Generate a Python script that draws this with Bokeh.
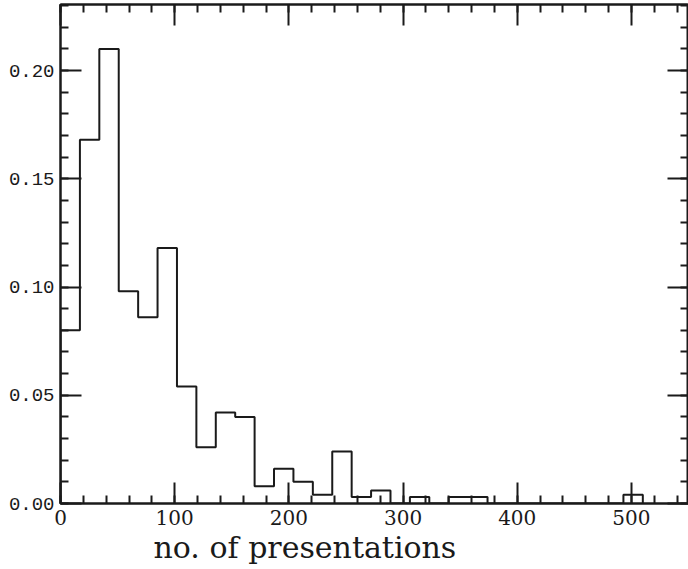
from bokeh.plotting import figure
from bokeh.models import (LinearAxis, SingleIntervalTicker, PrintfTickFormatter,
                          CustomJSTickFormatter, Range1d, Title)
from bokeh.embed import file_html
from bokeh.resources import INLINE

# ---- data (histogram, bin width 17) ----
bin_width = 17
bin_heights = [0.080, 0.168, 0.210, 0.098, 0.086, 0.118, 0.054, 0.026, 0.042, 0.040,
               0.008, 0.016, 0.010, 0.004, 0.024, 0.003, 0.006, 0.000, 0.003, 0.000,
               0.003, 0.003, 0.000, 0.000, 0.000, 0.000, 0.000, 0.000, 0.000, 0.004]
x_ticks_interval = 100
y_ticks_interval = 0.05
x_title = "no. of presentations"

edges = [i * bin_width for i in range(len(bin_heights) + 1)]
xs = [edges[0]]
ys = [0.0]
for i, h in enumerate(bin_heights):
    xs += [edges[i], edges[i + 1]]
    ys += [h, h]
xs.append(edges[-1])
ys.append(0.0)

INK = "#1a1a1a"

p = figure(width=688, height=569, output_backend="svg", toolbar_location=None,
           x_range=Range1d(0, 550), y_range=Range1d(0, 0.2305),
           x_axis_location=None, y_axis_location=None,
           min_border_left=60, min_border_right=0, min_border_top=4,
           min_border_bottom=66)
p.background_fill_color = "white"
p.border_fill_color = "white"
p.grid.visible = False
p.outline_line_color = INK
p.outline_line_width = 2

p.line(xs, ys, line_color=INK, line_width=2)


def style(ax, labels, font=None, size=None):
    ax.axis_line_color = INK
    ax.axis_line_width = 2
    ax.major_tick_line_color = INK
    ax.minor_tick_line_color = INK
    ax.major_tick_line_width = 2
    ax.minor_tick_line_width = 2
    ax.major_tick_in = 21
    ax.major_tick_out = 0
    ax.minor_tick_in = 8
    ax.minor_tick_out = 0
    if labels:
        ax.major_label_text_font = font
        ax.major_label_text_font_size = size
        ax.major_label_text_color = INK
        ax.major_label_standoff = 6
    else:
        ax.formatter = CustomJSTickFormatter(code="return ''")
        ax.major_label_standoff = 0


xb = LinearAxis(ticker=SingleIntervalTicker(interval=x_ticks_interval, num_minor_ticks=5))
style(xb, True, "DejaVu Serif", "20px")
xb.major_label_standoff = 6
p.add_layout(xb, "below")

xt = LinearAxis(ticker=SingleIntervalTicker(interval=x_ticks_interval, num_minor_ticks=5))
style(xt, False)
p.add_layout(xt, "above")

yl = LinearAxis(ticker=SingleIntervalTicker(interval=y_ticks_interval, num_minor_ticks=5),
                formatter=PrintfTickFormatter(format="%.2f"))
style(yl, True, "Liberation Mono", "19px")
p.add_layout(yl, "left")

yr = LinearAxis(ticker=SingleIntervalTicker(interval=y_ticks_interval, num_minor_ticks=5))
style(yr, False)
p.add_layout(yr, "right")

title = Title(text=x_title, align="left", offset=93, standoff=0,
              text_font="DejaVu Serif", text_font_size="30px",
              text_font_style="normal", text_color=INK)
p.add_layout(title, "below")

open("out.html", "w").write(file_html(p, INLINE))
